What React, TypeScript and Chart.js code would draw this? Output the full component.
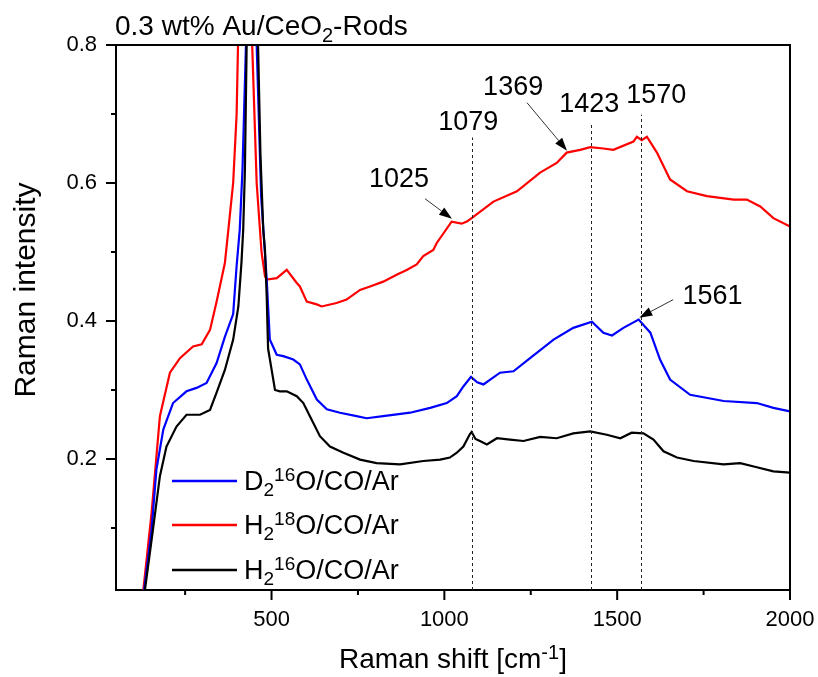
import { useEffect, useRef } from 'react';
import { Chart, registerables } from 'chart.js';

Chart.register(...registerables);

const FONT = '"Liberation Sans", Arial, Helvetica, sans-serif';

// ---------- data ----------
const blackShift = [131, 157, 177, 196, 225, 254, 293, 322, 341, 365, 389, 404, 413, 418, 423, 428, 444, 461, 468, 476, 481, 486, 490, 495, 510, 524, 544, 573, 592, 611, 640, 669, 708, 756, 804, 872, 939, 988, 1016, 1036, 1055, 1074, 1079, 1090, 1103, 1123, 1152, 1190, 1229, 1277, 1325, 1373, 1422, 1470, 1509, 1542, 1576, 1605, 1634, 1673, 1721, 1808, 1856, 1904, 1952, 2000];
const blackInt = [0.0, 0.098, 0.175, 0.218, 0.247, 0.264, 0.264, 0.271, 0.296, 0.329, 0.373, 0.421, 0.485, 0.532, 0.62, 0.80, 1.60, 0.80, 0.64, 0.532, 0.503, 0.436, 0.36, 0.345, 0.300, 0.298, 0.298, 0.291, 0.281, 0.262, 0.233, 0.218, 0.209, 0.199, 0.194, 0.192, 0.197, 0.199, 0.202, 0.209, 0.218, 0.236, 0.239, 0.229, 0.226, 0.221, 0.230, 0.228, 0.226, 0.232, 0.230, 0.237, 0.240, 0.235, 0.230, 0.238, 0.237, 0.228, 0.211, 0.202, 0.197, 0.192, 0.194, 0.188, 0.182, 0.180];

const blueShift = [129, 153, 167, 187, 215, 254, 283, 312, 341, 365, 389, 399, 408, 416, 426, 441, 457, 470, 486, 495, 515, 534, 563, 582, 602, 631, 660, 698, 746, 775, 823, 901, 959, 1007, 1036, 1055, 1077, 1095, 1113, 1161, 1200, 1248, 1316, 1373, 1427, 1460, 1485, 1518, 1562, 1596, 1624, 1653, 1711, 1808, 1904, 1952, 2000];
const blueInt = [0.0, 0.098, 0.185, 0.243, 0.281, 0.298, 0.303, 0.310, 0.339, 0.377, 0.41, 0.48, 0.532, 0.62, 0.80, 1.60, 0.80, 0.58, 0.46, 0.373, 0.351, 0.349, 0.344, 0.337, 0.315, 0.286, 0.272, 0.267, 0.262, 0.259, 0.262, 0.267, 0.274, 0.281, 0.291, 0.305, 0.319, 0.311, 0.308, 0.325, 0.327, 0.346, 0.373, 0.390, 0.399, 0.383, 0.379, 0.390, 0.402, 0.383, 0.344, 0.315, 0.293, 0.284, 0.281, 0.274, 0.269];

const redShift = [127, 153, 177, 206, 235, 273, 298, 322, 341, 365, 375, 389, 399, 403, 421, 444, 457, 471, 481, 486, 515, 544, 573, 582, 602, 631, 645, 688, 717, 756, 785, 823, 862, 891, 920, 939, 968, 978, 1021, 1050, 1065, 1079, 1142, 1210, 1277, 1325, 1354, 1393, 1422, 1460, 1489, 1547, 1557, 1571, 1586, 1615, 1653, 1702, 1760, 1837, 1875, 1914, 1952, 2000];
const redInt = [0.0, 0.122, 0.262, 0.325, 0.346, 0.363, 0.366, 0.387, 0.428, 0.484, 0.532, 0.60, 0.70, 0.80, 1.60, 0.80, 0.60, 0.50, 0.465, 0.46, 0.462, 0.474, 0.455, 0.45, 0.428, 0.424, 0.421, 0.426, 0.431, 0.445, 0.450, 0.457, 0.467, 0.474, 0.482, 0.494, 0.503, 0.513, 0.544, 0.541, 0.544, 0.549, 0.573, 0.588, 0.615, 0.629, 0.644, 0.648, 0.652, 0.650, 0.648, 0.660, 0.667, 0.662, 0.667, 0.644, 0.605, 0.588, 0.581, 0.576, 0.576, 0.566, 0.549, 0.537];

const xMajorTicks = [500, 1000, 1500, 2000];
const xMinorTicks = [250, 750, 1250, 1750];
const yMajorTicks = [0.2, 0.4, 0.6, 0.8];
const yMinorTicks = [0.1, 0.3, 0.5, 0.7];

// dashed marker lines: position and top value
const markerShift = [1079, 1423, 1570];
const markerTop = [0.666, 0.687, 0.699];

type Seg = { t: string; s?: 'sub' | 'sup' };

// peak labels: text, label anchor (x centre, baseline y) in data units
const peakLabels = ['1025', '1079', '1369', '1423', '1570', '1561'];
const peakLabelX = [869, 1069, 1199, 1419, 1613, 1776];
const peakLabelY = [0.5946, 0.6772, 0.728, 0.7033, 0.7164, 0.4251];

// arrows: from (x0,y0) to tip (x1,y1) in data units
const arrowFromX = [944, 1239, 1662];
const arrowFromY = [0.5772, 0.7164, 0.4309];
const arrowToX = [1022, 1355, 1564];
const arrowToY = [0.548, 0.6468, 0.4048];

const legendLabels: Seg[][] = [
  [{ t: 'D' }, { t: '2', s: 'sub' }, { t: '16', s: 'sup' }, { t: 'O/CO/Ar' }],
  [{ t: 'H' }, { t: '2', s: 'sub' }, { t: '18', s: 'sup' }, { t: 'O/CO/Ar' }],
  [{ t: 'H' }, { t: '2', s: 'sub' }, { t: '16', s: 'sup' }, { t: 'O/CO/Ar' }],
];
const legendColors = ['#0000FF', '#FF0000', '#000000'];

const titleSegs: Seg[] = [{ t: '0.3 wt% Au/CeO' }, { t: '2', s: 'sub' }, { t: '-Rods' }];
const xTitleSegs: Seg[] = [{ t: 'Raman shift [cm' }, { t: '-1', s: 'sup' }, { t: ']' }];
const yTitle = 'Raman intensity';

function toPoints(xs: number[], ys: number[]) {
  return xs.map((x, i) => ({ x, y: ys[i] }));
}

function drawRich(ctx: CanvasRenderingContext2D, segs: Seg[], x: number, y: number, size: number, align: 'left' | 'center') {
  const small = Math.round(size * 0.7);
  let w = 0;
  for (const seg of segs) {
    ctx.font = `${seg.s ? small : size}px ${FONT}`;
    w += ctx.measureText(seg.t).width;
  }
  let cx = align === 'left' ? x : x - w / 2;
  ctx.textAlign = 'left';
  ctx.textBaseline = 'alphabetic';
  for (const seg of segs) {
    ctx.font = `${seg.s ? small : size}px ${FONT}`;
    const dy = seg.s === 'sub' ? size * 0.24 : seg.s === 'sup' ? -size * 0.32 : 0;
    ctx.fillText(seg.t, cx, y + dy);
    cx += ctx.measureText(seg.t).width;
  }
}

const decorPlugin = {
  id: 'decor',
  afterDraw(chart: any) {
    const ctx: CanvasRenderingContext2D = chart.ctx;
    const xs = chart.scales.x;
    const ys = chart.scales.y;
    const { left, right, top, bottom } = chart.chartArea;
    ctx.save();
    ctx.strokeStyle = '#000';
    ctx.fillStyle = '#000';

    // frame top/right
    ctx.lineWidth = 2;
    ctx.beginPath();
    ctx.moveTo(left - 1, top);
    ctx.lineTo(right, top);
    ctx.lineTo(right, bottom + 1);
    ctx.stroke();

    // tick marks
    ctx.lineWidth = 2;
    ctx.beginPath();
    xMajorTicks.forEach((v) => { const p = xs.getPixelForValue(v); ctx.moveTo(p, bottom); ctx.lineTo(p, bottom + 10); });
    xMinorTicks.forEach((v) => { const p = xs.getPixelForValue(v); ctx.moveTo(p, bottom); ctx.lineTo(p, bottom + 5); });
    yMajorTicks.forEach((v) => { const p = ys.getPixelForValue(v); ctx.moveTo(left, p); ctx.lineTo(left - 10, p); });
    yMinorTicks.forEach((v) => { const p = ys.getPixelForValue(v); ctx.moveTo(left, p); ctx.lineTo(left - 5, p); });
    ctx.stroke();

    // dashed marker lines
    ctx.lineWidth = 1;
    ctx.strokeStyle = '#222';
    ctx.setLineDash([3, 3]);
    markerShift.forEach((v, i) => {
      const p = Math.round(xs.getPixelForValue(v)) + 0.5;
      ctx.beginPath();
      ctx.moveTo(p, bottom);
      ctx.lineTo(p, ys.getPixelForValue(markerTop[i]));
      ctx.stroke();
    });
    ctx.setLineDash([]);

    // arrows
    arrowFromX.forEach((_, i) => {
      const x0 = xs.getPixelForValue(arrowFromX[i]);
      const y0 = ys.getPixelForValue(arrowFromY[i]);
      const x1 = xs.getPixelForValue(arrowToX[i]);
      const y1 = ys.getPixelForValue(arrowToY[i]);
      const ang = Math.atan2(y1 - y0, x1 - x0);
      const hl = 13, hw = 4.5;
      const bx = x1 - hl * Math.cos(ang);
      const by = y1 - hl * Math.sin(ang);
      ctx.strokeStyle = '#333';
      ctx.lineWidth = 1;
      ctx.beginPath();
      ctx.moveTo(x0, y0);
      ctx.lineTo(bx, by);
      ctx.stroke();
      ctx.fillStyle = '#000';
      ctx.beginPath();
      ctx.moveTo(x1, y1);
      ctx.lineTo(bx + hw * Math.sin(ang), by - hw * Math.cos(ang));
      ctx.lineTo(bx - hw * Math.sin(ang), by + hw * Math.cos(ang));
      ctx.closePath();
      ctx.fill();
    });

    // peak labels
    ctx.fillStyle = '#000';
    peakLabels.forEach((t, i) => {
      drawRich(ctx, [{ t }], xs.getPixelForValue(peakLabelX[i]), ys.getPixelForValue(peakLabelY[i]), 27, 'center');
    });

    // title
    drawRich(ctx, titleSegs, 115, 35, 28, 'left');

    // x title
    drawRich(ctx, xTitleSegs, (left + right) / 2, 668, 28, 'center');

    // y title
    ctx.save();
    ctx.translate(35, 290);
    ctx.rotate(-Math.PI / 2);
    ctx.font = `30px ${FONT}`;
    ctx.textAlign = 'center';
    ctx.textBaseline = 'alphabetic';
    ctx.fillText(yTitle, 0, 0);
    ctx.restore();

    // legend
    const rowY = [481, 525, 570];
    legendLabels.forEach((segs, i) => {
      ctx.strokeStyle = legendColors[i];
      ctx.lineWidth = 2.5;
      ctx.beginPath();
      ctx.moveTo(172, rowY[i]);
      ctx.lineTo(237, rowY[i]);
      ctx.stroke();
      ctx.fillStyle = '#000';
      drawRich(ctx, segs, 244, rowY[i] + 9, 27, 'left');
    });

    ctx.restore();
  },
};

export default function App() {
  const ref = useRef<HTMLCanvasElement>(null);
  useEffect(() => {
    if (!ref.current) return;
    const chart = new Chart(ref.current, {
      type: 'line',
      data: {
        datasets: [
          { label: 'H2 16O/CO/Ar', data: toPoints(blackShift, blackInt), borderColor: '#000000', borderWidth: 2.2, pointRadius: 0, tension: 0 },
          { label: 'D2 16O/CO/Ar', data: toPoints(blueShift, blueInt), borderColor: '#0000FF', borderWidth: 2.2, pointRadius: 0, tension: 0 },
          { label: 'H2 18O/CO/Ar', data: toPoints(redShift, redInt), borderColor: '#FF0000', borderWidth: 2.2, pointRadius: 0, tension: 0 },
        ],
      },
      options: {
        animation: false,
        responsive: false,
        devicePixelRatio: 1,
        layout: { padding: { top: 45, right: 28, left: 0, bottom: 0 } },
        plugins: { legend: { display: false }, tooltip: { enabled: false } },
        scales: {
          x: {
            type: 'linear',
            min: 50,
            max: 2000,
            afterFit: (s: any) => { s.height = 87; s.paddingLeft = 0; s.paddingRight = 0; },
            afterBuildTicks: (s: any) => { s.ticks = xMajorTicks.map((value) => ({ value })); },
            grid: { display: false, drawTicks: false },
            border: { display: true, color: '#000', width: 2 },
            ticks: { color: '#000', font: { family: FONT, size: 22 }, padding: 17, maxRotation: 0, callback: (v: any) => String(v) },
          },
          y: {
            type: 'linear',
            min: 0.01,
            max: 0.8,
            afterFit: (s: any) => { s.width = 116; },
            afterBuildTicks: (s: any) => { s.ticks = yMajorTicks.map((value) => ({ value })); },
            grid: { display: false, drawTicks: false },
            border: { display: true, color: '#000', width: 2 },
            ticks: { color: '#000', font: { family: FONT, size: 22 }, padding: 19, callback: (v: any) => Number(v).toFixed(1) },
          },
        },
      },
      plugins: [decorPlugin],
    });
    return () => chart.destroy();
  }, []);
  return (
    <div style={{ position: 'absolute', left: 0, top: 0, width: 818, height: 677, background: '#fff' }}>
      <canvas ref={ref} width={818} height={677} />
    </div>
  );
}
